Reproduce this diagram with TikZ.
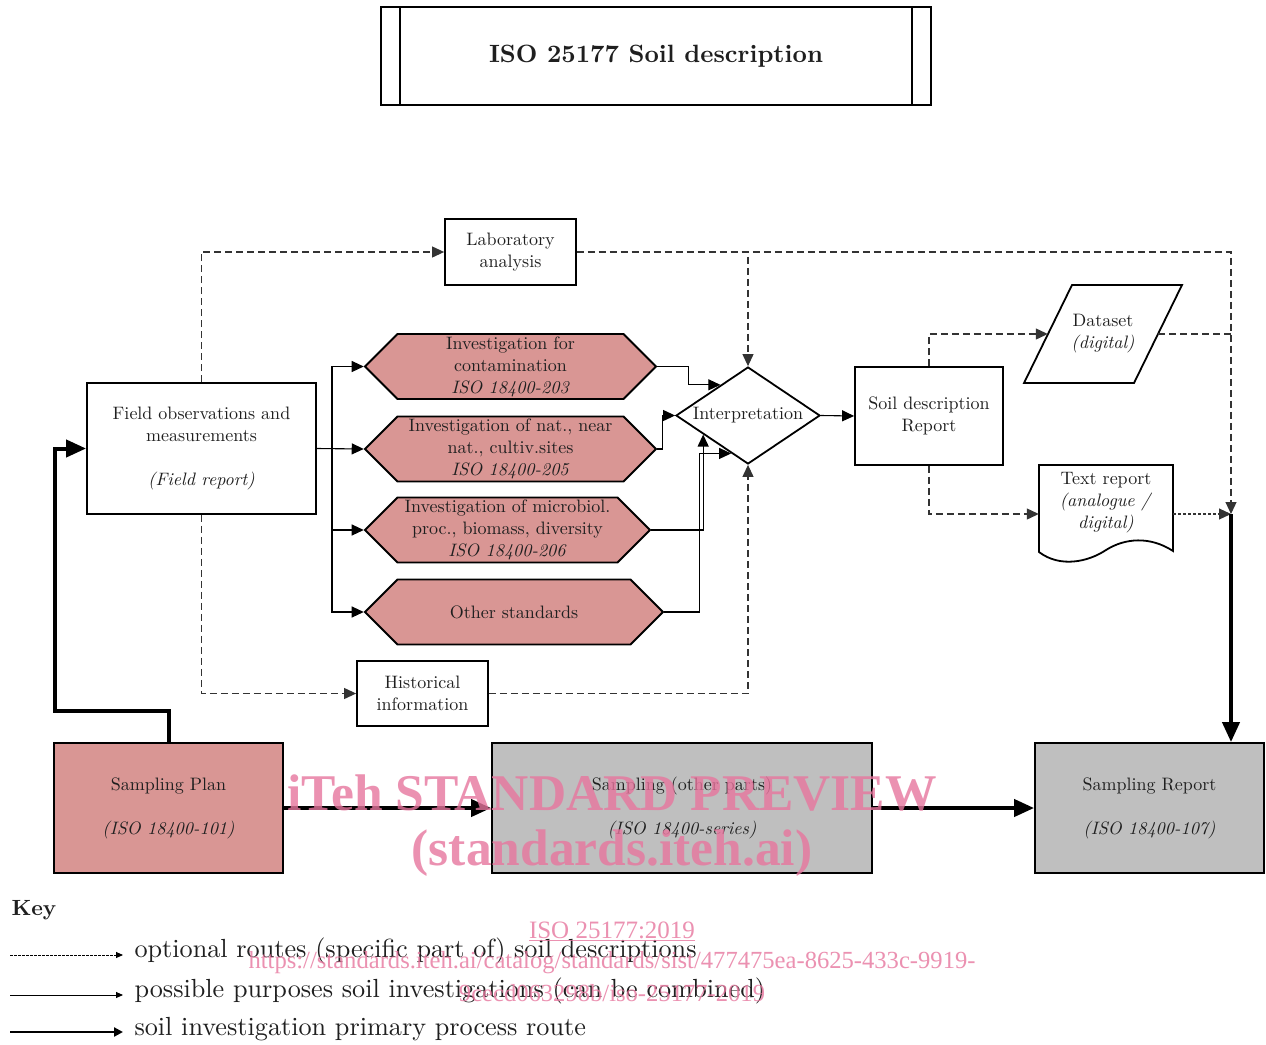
\documentclass[tikz,border=0pt]{standalone}
\usepackage{fontspec}
\setmainfont{lmroman10-regular.otf}[BoldFont=lmroman10-bold.otf, ItalicFont=lmroman10-italic.otf, BoldItalicFont=lmroman10-bolditalic.otf]
\newfontfamily\wmfont{Liberation Serif}
\usetikzlibrary{shapes.geometric,shapes.symbols,arrows.meta}
\definecolor{hexfill}{HTML}{D99694}
\definecolor{grayfill}{HTML}{BFBFBF}
\definecolor{txt}{HTML}{1F1F1F}
\definecolor{wm}{RGB}{231,118,158}
\begin{document}
\begin{tikzpicture}[x=1pt,y=-1pt,
  every node/.style={text=txt, font=\fontsize{18}{22}\selectfont},
  box/.style={draw=black, line width=1.8pt, fill=white, align=center, inner sep=0pt},
  hexa/.style={signal, signal to=east and west, signal pointer angle=90, draw=black, line width=1.8pt, fill=hexfill, align=center, inner sep=0pt, minimum height=65pt},
  opt/.style={draw=black!80, line width=1.1pt, dash pattern=on 7pt off 4pt},
  optdot/.style={draw=black!80, line width=1.1pt, dash pattern=on 3pt off 2pt},
  pp/.style={draw=black, line width=1.1pt},
  tipA/.style={-{Triangle[length=12pt,width=11pt]}},
  prim/.style={draw=black, line width=4pt, -{Triangle[length=20pt,width=17pt]}},
  wmtext/.style={text=wm, opacity=0.8, text opacity=0.8},
]
\useasboundingbox[fill=white] (0,0) rectangle (1266,1044);

% title
\node[box, minimum width=550pt, minimum height=98pt, font=\fontsize{25}{30}\selectfont\bfseries] (title) at (656,56) {ISO 25177 Soil description};
\draw[line width=1.8pt] ([xshift=20pt]title.north west) -- ([xshift=20pt]title.south west);
\draw[line width=1.8pt] ([xshift=-20pt]title.north east) -- ([xshift=-20pt]title.south east);

% boxes
\node[box, minimum width=131pt, minimum height=66pt] (lab) at (510.5,252) {Laboratory\\analysis};
\node[box, minimum width=229pt, minimum height=131pt] (fo) at (201.5,448.5) {Field observations and\\measurements\\[22pt]\textit{(Field report)}};
\node[hexa, minimum width=291pt] (h1) at (510.5,366.5) {Investigation for\\contamination\\\textit{ISO 18400-203}};
\node[hexa, minimum width=291pt] (h2) at (510.5,449) {Investigation of nat., near\\nat., cultiv.sites\\\textit{ISO 18400-205}};
\node[hexa, minimum width=285pt] (h3) at (507.5,530) {Investigation of microbiol.\\proc., biomass, diversity\\\textit{ISO 18400-206}};
\node[hexa, minimum width=298pt] (h4) at (514,612) {Other standards};
\node[diamond, draw=black, line width=1.8pt, fill=white, minimum width=144pt, minimum height=97pt, aspect=1.5, inner sep=0pt, text height=8pt, text depth=0pt] (interp) at (748,415.5) {Interpretation};
\node[box, minimum width=148pt, minimum height=98pt] (sr) at (929,416) {Soil description\\Report};

\draw[line width=1.8pt, fill=white] (1072,285) -- (1182,285) -- (1134,383) -- (1024,383) -- cycle;
\node[align=center, minimum width=110pt, minimum height=98pt, inner sep=0pt] (ds) at (1103,334) {Dataset\\\textit{(digital)}};

\draw[line width=1.8pt, fill=white] (1039,552) -- (1039,465) -- (1173,465) -- (1173,551)
  .. controls (1150,536) and (1125,538) .. (1106,550)
  .. controls (1088,562) and (1060,568) .. cycle;
\node[align=center, minimum width=134pt, minimum height=70pt, inner sep=0pt] (tr) at (1106,503) {Text report\\\textit{(analogue /}\\\textit{digital)}};

\node[box, minimum width=131pt, minimum height=65pt] (hi) at (422.5,693.5) {Historical\\information};

\node[box, fill=hexfill, minimum width=229pt, minimum height=130pt] (sp) at (168.5,808) {Sampling Plan\\[22pt]\textit{(ISO 18400-101)}};
\node[box, fill=grayfill, minimum width=380pt, minimum height=130pt] (so) at (682,808) {Sampling (other parts)\\[22pt]\textit{(ISO 18400-series)}};
\node[box, fill=grayfill, minimum width=229pt, minimum height=130pt] (sampr) at (1149.5,808) {Sampling Report\\[22pt]\textit{(ISO 18400-107)}};

\coordinate (c1) at (1231,514);
\coordinate (bx) at (332,449);

% optional (dashed)
\draw[opt, tipA] (fo.north) |- (lab.west);
\draw[opt, tipA] (lab.east) -| (interp.north);
\draw[opt, tipA] (lab.east) -| (c1);
\draw[opt, tipA] (fo.south) |- (hi.west);
\draw[opt, tipA] (hi.east) -| (interp.south);
\draw[opt, tipA] (sr.north) |- (ds.west);
\draw[opt] (ds.east) -- (ds.east -| c1);
\draw[opt, tipA] (sr.south) |- ([yshift=-11pt]tr.west);
\draw[optdot, tipA] ([yshift=-11pt]tr.east) -- (c1);

% possible purposes (thin)
\draw[pp, tipA] (fo.east) -- (h2.west);
\draw[pp, tipA] (bx) |- (h1.west);
\draw[pp, tipA] (bx) |- (h3.west);
\draw[pp, tipA] (bx) |- (h4.west);
\draw[pp, tipA] (h1.east) -- ++(31,0) |- (interp.132);
\draw[pp, tipA] (h2.east) -- ++(5,0) |- (interp.west);
\draw[pp, tipA] (h3.east) -| (interp.203);
\draw[pp, tipA] (h4.east) -- ++(35,0) |- (interp.246);
\draw[pp, tipA] (interp.east) -- (sr.west);

% primary (thick)
\draw[prim] (sp.north) -- ++(0,-31) -| ([xshift=-31pt]fo.west) -- (fo.west);
\draw[prim] (sp.east) -- (so.west);
\draw[prim] (so.east) -- (sampr.west);
\draw[prim] (c1) -- (c1 |- sampr.north);

% key
\node[anchor=west, font=\fontsize{22}{26}\selectfont\bfseries] (key) at (8,910) {Key};
\coordinate (k1a) at (10,955); \coordinate (k1b) at (123,955);
\coordinate (k2a) at (10,995); \coordinate (k2b) at (123,995);
\coordinate (k3a) at (10,1032); \coordinate (k3b) at (123,1032);
\draw[line width=0.9pt, dash pattern=on 2.5pt off 1.5pt, -{Triangle[length=7pt,width=6pt]}] (k1a) -- (k1b);
\draw[line width=0.9pt, -{Triangle[length=7pt,width=6pt]}] (k2a) -- (k2b);
\draw[line width=2.6pt, -{Triangle[length=9pt,width=9pt]}] (k3a) -- (k3b);
\node[anchor=west, font=\fontsize{26.2}{28}\selectfont] (kt1) at (131,951) {optional routes (specific part of) soil descriptions};
\node[anchor=west, font=\fontsize{26.2}{28}\selectfont] (kt2) at (131,991) {possible purposes soil investigations (can be combined)};
\node[anchor=west, font=\fontsize{26.2}{28}\selectfont] (kt3) at (131,1029) {soil investigation primary process route};

% watermark
\node[wmtext, font=\wmfont\fontsize{51.5}{56}\selectfont\bfseries] (wm1) at (612,793) {iTeh STANDARD PREVIEW};
\node[wmtext, font=\wmfont\fontsize{51.5}{56}\selectfont\bfseries] (wm2) at (612,853) {(standards.iteh.ai)};
\node[wmtext, font=\wmfont\fontsize{25}{28}\selectfont] (wm3) at (612,931) {\underline{ISO 25177:2019}};
\node[wmtext, font=\wmfont\fontsize{24.6}{28}\selectfont] (wm4) at (612,963) {https://standards.iteh.ai/catalog/standards/sist/477475ea-8625-433c-9919-};
\node[wmtext, font=\wmfont\fontsize{24.6}{28}\selectfont] (wm5) at (612,993) {9cecd063298b/iso-25177-2019};
\end{tikzpicture}
\end{document}
